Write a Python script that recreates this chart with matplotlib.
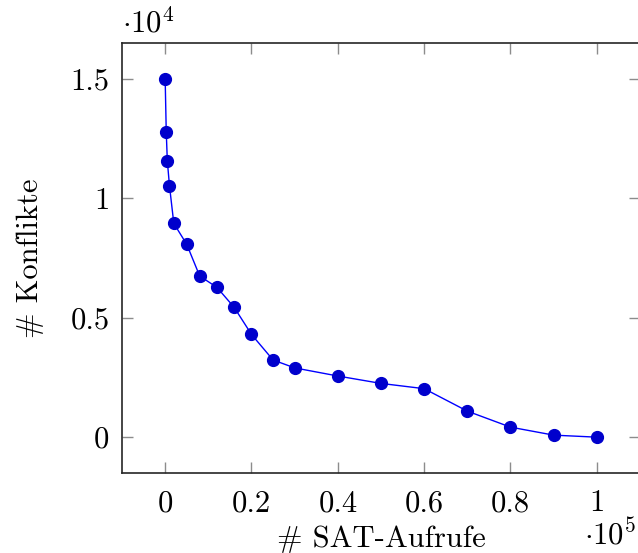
import numpy as np
import matplotlib
matplotlib.use("Agg")
import matplotlib.pyplot as plt

plt.rcParams['font.family'] = 'cmr10'
plt.rcParams['mathtext.fontset'] = 'cm'
plt.rcParams['axes.formatter.use_mathtext'] = True

# SAT-Aufrufe vs. Konflikte
sat_calls = [0, 250, 500, 1000, 2000, 5000, 8000, 12000, 16000, 20000, 25000,
             30000, 40000, 50000, 60000, 70000, 80000, 90000, 100000]
conflicts = [15000, 12780, 11560, 10520, 8950, 8070, 6745, 6270, 5430, 4300, 3230,
             2900, 2560, 2250, 2030, 1090, 420, 85, 0]

x_ticks = [0, 0.2, 0.4, 0.6, 0.8, 1]
x_ticklabels = ['0', '0.2', '0.4', '0.6', '0.8', '1']
y_ticks = [0, 0.5, 1, 1.5]
y_ticklabels = ['0', '0.5', '1', '1.5']

x = np.array(sat_calls) / 1e5
y = np.array(conflicts) / 1e4

fig = plt.figure(figsize=(6.38, 5.53), dpi=100)
ax = fig.add_axes([122/638, 1 - 473/553, (640 - 122)/638, (473 - 43)/553])

ax.plot(x, y, color='#0000ff', lw=1.0, marker='o', markersize=8.5,
        markerfacecolor='#0000cc', markeredgecolor='#0000cc', zorder=3)

ax.set_xlim(-0.1, 1.1)
ax.set_ylim(-0.15, 1.65)
ax.set_xticks(x_ticks)
ax.set_xticklabels(x_ticklabels)
ax.set_yticks(y_ticks)
ax.set_yticklabels(y_ticklabels)

ax.tick_params(direction='in', length=8, width=1, color='0.55', labelsize=22,
               top=True, right=True)
ax.tick_params(axis='x', pad=12)
ax.tick_params(axis='y', pad=9)
for sp in ax.spines.values():
    sp.set_linewidth(1.2)
    sp.set_color('0.15')

ax.set_xlabel('# SAT-Aufrufe', fontsize=22, labelpad=6)
ax.set_ylabel('# Konflikte', fontsize=22, labelpad=19)

fig.text(122/638, 1 - 38/553, r'$\cdot 10^4$', fontsize=22, ha='left', va='bottom')
fig.text(584/638, 1 - 551/553, r'$\cdot 10^5$', fontsize=22, ha='left', va='bottom')

fig.savefig('out.png', dpi=100)
